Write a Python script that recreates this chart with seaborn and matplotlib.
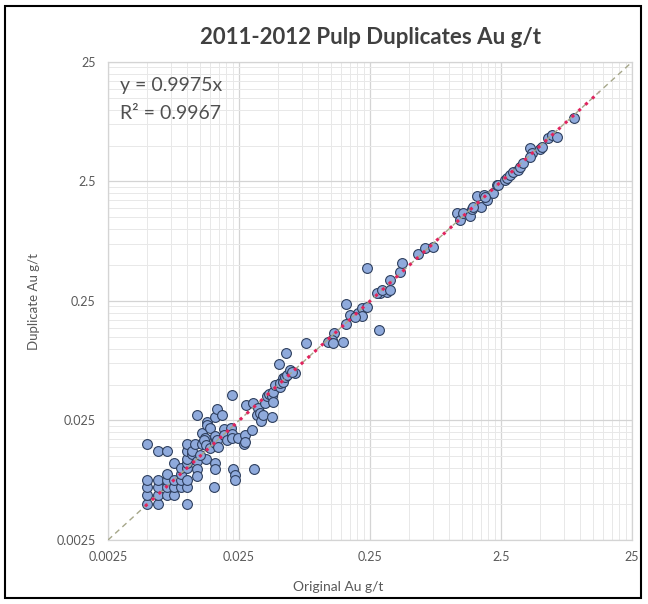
import numpy as np
import pandas as pd
import seaborn as sns
import matplotlib
matplotlib.use("Agg")
import matplotlib.pyplot as plt
from matplotlib.ticker import FixedLocator, NullFormatter
from matplotlib.patches import Rectangle

# original vs duplicate Au g/t
original = [
    0.005, 0.005, 0.005, 0.005, 0.005,
    0.006, 0.006, 0.006, 0.006, 0.006,
    0.007, 0.007, 0.007, 0.007, 0.007,
    0.008, 0.008, 0.008, 0.008,
    0.009, 0.009, 0.009, 0.009,
    0.010, 0.010, 0.010, 0.010, 0.010, 0.010, 0.010, 0.010,
    0.011, 0.011, 0.0115, 0.012, 0.012, 0.012, 0.013, 0.013, 0.0138, 0.0141, 0.0126,
    0.0164, 0.0164, 0.016, 0.0224, 0.0233, 0.0233, 0.0326,
    0.012, 0.0143, 0.0143, 0.0150, 0.0164, 0.0171, 0.0185, 0.0134, 0.014, 0.015,
    0.0164, 0.0164, 0.0169, 0.0174, 0.0192, 0.0192, 0.0201, 0.022, 0.0217, 0.022,
    0.022, 0.0247, 0.0273, 0.0278, 0.0278, 0.0316, 0.0281, 0.032, 0.0351, 0.0341,
    0.0362, 0.0368, 0.0383, 0.0449, 0.0394, 0.0406, 0.042, 0.0444, 0.0457, 0.0457,
    0.047, 0.0514, 0.0514, 0.0545, 0.0541, 0.0561, 0.0578, 0.0612, 0.0669, 0.063,
    0.0508, 0.057, 0.081,
    0.1335, 0.1276, 0.120, 0.131, 0.155, 0.164, 0.164, 0.176, 0.204, 0.216,
    0.236, 0.216, 0.192, 0.294, 0.298, 0.335, 0.238, 0.281, 0.307, 0.355,
    0.355, 0.424, 0.437, 0.585, 0.658, 0.76,
    1.148, 1.216, 1.29, 1.45, 1.49, 1.63, 1.75, 1.85, 1.95, 2.16,
    2.32, 2.38, 1.89, 1.52, 2.68, 2.76, 2.93, 3.1, 3.39, 3.49,
    3.7, 4.16, 4.29, 4.16, 4.97, 5.11, 5.74, 6.1, 6.66, 9.0,
]
duplicate = [
    0.005, 0.006, 0.007, 0.008, 0.016,
    0.005, 0.006, 0.007, 0.008, 0.014,
    0.006, 0.007, 0.008, 0.009, 0.014,
    0.006, 0.007, 0.008, 0.011,
    0.007, 0.008, 0.009, 0.010,
    0.005, 0.007, 0.008, 0.010, 0.011, 0.012, 0.014, 0.016,
    0.013, 0.014, 0.016, 0.0115, 0.0098, 0.0085, 0.016, 0.0195, 0.0178, 0.0118, 0.0128,
    0.011, 0.0098, 0.007, 0.0098, 0.0088, 0.008, 0.0098,
    0.028, 0.0244, 0.0229, 0.0216, 0.0266, 0.0312, 0.0277, 0.0171, 0.0156, 0.0146,
    0.0187, 0.0163, 0.0171, 0.0151, 0.0211, 0.0189, 0.0171, 0.041, 0.0218, 0.0192,
    0.0177, 0.0178, 0.0159, 0.0189, 0.0166, 0.0208, 0.0337, 0.0348, 0.0316, 0.0278,
    0.0287, 0.0249, 0.0278, 0.0269, 0.0348, 0.0401, 0.042, 0.0402, 0.0435, 0.0359,
    0.0496, 0.048, 0.0511, 0.0564, 0.0529, 0.0575, 0.06, 0.0662, 0.0628, 0.064,
    0.0743, 0.091, 0.112,
    0.134, 0.118, 0.114, 0.112, 0.114, 0.16, 0.236, 0.191, 0.197, 0.217,
    0.224, 0.187, 0.185, 0.143, 0.29, 0.299, 0.47, 0.29, 0.309, 0.309,
    0.375, 0.44, 0.523, 0.618, 0.69, 0.703,
    1.37, 1.19, 1.355, 1.285, 1.46, 1.89, 1.52, 1.93, 1.75, 1.99,
    2.34, 2.34, 1.87, 1.54, 2.57, 2.66, 2.83, 3.02, 3.12, 3.33,
    3.55, 4.74, 4.3, 4.04, 4.65, 4.89, 5.74, 6.12, 5.93, 8.45,
]
slope = 0.9975
r2 = 0.9967
fit_range = [0.0048, 14.0]   # span of the red trendline
tick_values = [0.0025, 0.025, 0.25, 2.5, 25]
tick_labels = ["0.0025", "0.025", "0.25", "2.5", "25"]

df = pd.DataFrame({"original": original, "duplicate": duplicate})

sns.set_style("white")
plt.rcParams["font.family"] = ["Lato", "DejaVu Sans"]

fig = plt.figure(figsize=(6.48, 6.04), dpi=100)
ax = fig.add_axes([108 / 648, 64 / 604, 524 / 648, 478 / 604])

ax.set_xscale("log")
ax.set_yscale("log")
ax.set_xlim(tick_values[0], tick_values[-1])
ax.set_ylim(tick_values[0], tick_values[-1])

# 1:1 line
ax.plot(tick_values, tick_values, ls=(0, (4, 3)), color="#a6a78a", lw=1.0, zorder=4)

sns.scatterplot(data=df, x="original", y="duplicate", ax=ax, s=50,
                color="#8faadc", edgecolor="#2e3f5e", linewidth=0.8,
                zorder=3, legend=False)

# linear fit through origin
fit_x = np.array(fit_range)
ax.plot(fit_x, slope * fit_x, ls=(0, (1, 2)), color="#e0245e", lw=2.2, zorder=5)

minor = [m * t for t in tick_values[:-1] for m in range(2, 10)]
ax.xaxis.set_major_locator(FixedLocator(tick_values))
ax.yaxis.set_major_locator(FixedLocator(tick_values))
ax.xaxis.set_minor_locator(FixedLocator(minor))
ax.yaxis.set_minor_locator(FixedLocator(minor))
ax.xaxis.set_minor_formatter(NullFormatter())
ax.yaxis.set_minor_formatter(NullFormatter())
ax.set_xticklabels(tick_labels)
ax.set_yticklabels(tick_labels)
ax.tick_params(axis="both", which="both", length=0, labelsize=9, labelcolor="#595959")
ax.tick_params(axis="x", pad=8)
ax.tick_params(axis="y", pad=9)

ax.grid(which="major", color="#d4d4d4", lw=0.9, zorder=0)
ax.grid(which="minor", color="#e8e8e8", lw=0.7, zorder=0)
ax.set_axisbelow(True)
for sp in ax.spines.values():
    sp.set_color("#d4d4d4")
    sp.set_linewidth(0.9)

ax.set_xlabel("Original Au g/t", fontsize=10, color="#595959", labelpad=8)
ax.set_ylabel("Duplicate Au g/t", fontsize=9.5, color="#595959", labelpad=12)
ax.xaxis.set_label_coords(0.439, -0.085)

ax.text(0.022, 0.95, f"y = {slope}x", transform=ax.transAxes, fontsize=14,
        color="#505050", va="center", ha="left")
ax.text(0.022, 0.893, f"R\u00b2 = {r2}", transform=ax.transAxes, fontsize=14,
        color="#505050", va="center", ha="left")

fig.text(370 / 648, 1 - 38 / 604, "2011-2012 Pulp Duplicates Au g/t",
         ha="center", va="center", fontsize=16, fontweight="bold", color="#404040")

fig.patches.append(Rectangle((5 / 648, 6 / 604), 636 / 648, 592 / 604,
                             transform=fig.transFigure, fill=False,
                             edgecolor="black", lw=1.5))

fig.savefig("out.png", dpi=100)
